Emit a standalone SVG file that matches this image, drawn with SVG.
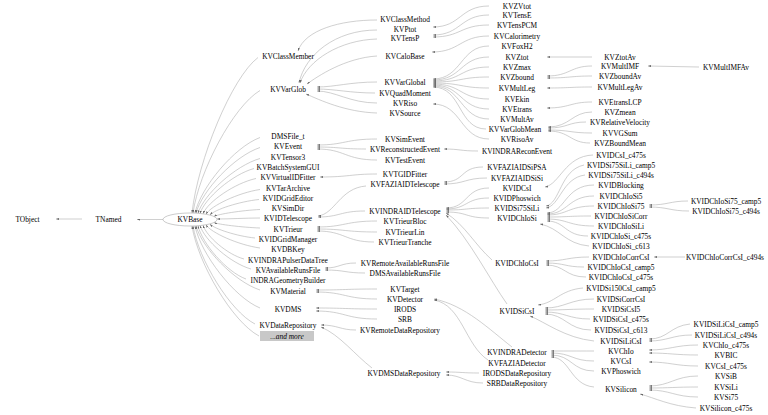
<svg xmlns="http://www.w3.org/2000/svg" width="768" height="415" viewBox="0 0 768 415">
<defs>
<style>
.t{font-family:"Liberation Serif","Times New Roman",serif;font-size:7.4px;text-anchor:middle;fill:#000}
.e{fill:none;stroke:#b0b0b0;stroke-width:0.6;marker-end:url(#ah)}
</style>
<marker id="ah" markerUnits="userSpaceOnUse" markerWidth="3" markerHeight="2" refX="3" refY="1" orient="auto">
<path d="M0,0 L3,1 L0,2 z" fill="#666"/>
</marker>
</defs>
<rect width="768" height="415" fill="#fff"/>

<g id="edges">
<path class="e" d="M82,219 L56,219"/>
<path class="e" d="M163,219.5 L137,219.5"/>
<!-- KVBase fan -->
<path class="e" d="M258,57.5 C231.6,77.7 197.9,160.1 192,213"/>
<path class="e" d="M260,90.5 C233.2,106.4 199,171.4 193,213"/>
<path class="e" d="M260,137.5 C234,147.3 200.9,187.3 195,213"/>
<path class="e" d="M260,147.5 C234.4,156 201.8,190.9 196,213.2"/>
<path class="e" d="M260,158.5 C235.2,165.6 203.6,194.7 198,213.3"/>
<path class="e" d="M254,168.5 C232.4,174.4 204.9,198.2 200,213.5"/>
<path class="e" d="M256,178.5 C234.8,183.1 207.8,201.8 203,213.8"/>
<path class="e" d="M260,189.5 C238.4,192.7 210.9,205.8 206,214.2"/>
<path class="e" d="M259,199.5 C239.4,201.5 214.4,209.7 210,215"/>
<path class="e" d="M260,209.5 C241.6,210.4 218.1,214.1 214,216.5"/>
<path class="e" d="M260,218 C245,218 230,219 217,219"/>
<path class="e" d="M260,228 C241.6,227.3 218.1,224.4 214,222.5"/>
<path class="e" d="M255,238 C237,236.2 214,228.8 210,224"/>
<path class="e" d="M260,248 C238.4,245 210.9,232.7 206,224.8"/>
<path class="e" d="M244,259 C227.6,254.6 206.7,236.7 203,225.2"/>
<path class="e" d="M251,269 C230.6,263.3 204.6,240.3 200,225.5"/>
<path class="e" d="M246,279 C226.8,272.1 202.3,243.8 198,225.7"/>
<path class="e" d="M260,290 C234.4,281.7 201.8,247.6 196,225.8"/>
<path class="e" d="M260,308 C234,297.3 200.9,253.9 195,226"/>
<path class="e" d="M255,324 C230.2,311.3 198.6,259.3 193,226"/>
<path class="e" d="M259,336 C232.2,321.7 198,263.4 192,226"/>
<!-- rank 3 to rank 2 -->
<path class="e" d="M377,20 C340,20 305,30 298,51"/>
<path class="e" d="M377,30 C335,30 305,55 299,83"/>
<path class="e" d="M377,39 C340,40 308,60 300,83"/>
<path class="e" d="M377,56 C345,58 318,76 307,84"/>
<path class="e" d="M377,82 C350,82 335,87 317,87"/>
<path class="e" d="M375,93 C350,93 335,89 317,89"/>
<path class="e" d="M377,103 C350,103 335,91 317,91"/>
<path class="e" d="M377,113 C345,112 320,100 306,94"/>
<path class="e" d="M377,139 C345,139 345,145 317,145"/>
<path class="e" d="M366,149 C340,149 340,147 317,147"/>
<path class="e" d="M377,160 C345,160 345,149 317,149"/>
<path class="e" d="M377,174 C350,174 350,177 320,177"/>
<path class="e" d="M366,186 C340,188 335,214 318,216"/>
<path class="e" d="M365,211 C340,211 340,217 318,217"/>
<path class="e" d="M377,221 C345,221 345,227 317,227"/>
<path class="e" d="M377,232 C345,232 345,229 317,229"/>
<path class="e" d="M374,242 C345,242 345,231 317,231"/>
<path class="e" d="M356,263 C340,263 340,268 325,268"/>
<path class="e" d="M365,273 C345,273 345,270 325,270"/>
<path class="e" d="M377,289 C345,289 345,290 316,290"/>
<path class="e" d="M377,299 C345,299 345,292 316,292"/>
<path class="e" d="M377,309 C345,309 345,308 316,308"/>
<path class="e" d="M377,319 C345,319 345,311 316,311"/>
<path class="e" d="M356,330 C340,330 338,325 321,325"/>
<path class="e" d="M372,368 C355,355 340,335 321,327"/>
<!-- rank 4 to rank 3 -->
<path class="e" d="M489,6 C460,6 461,27 433,27"/>
<path class="e" d="M489,15 C460,15 461,35 433,35"/>
<path class="e" d="M489,25 C460,25 461,37 433,37"/>
<path class="e" d="M489,36 C460,36 460,52 432,52"/>
<path class="e" d="M489,46 C460,46 462,79 433,79"/>
<path class="e" d="M489,57 C460,57 462,80 433,80"/>
<path class="e" d="M489,67 C460,67 462,81 433,81"/>
<path class="e" d="M489,77 C460,77 462,82 433,82"/>
<path class="e" d="M489,88 C460,88 462,83 433,83"/>
<path class="e" d="M489,99 C460,99 462,84 433,84"/>
<path class="e" d="M489,109 C460,109 462,85 433,85"/>
<path class="e" d="M489,119 C460,119 462,86 433,86"/>
<path class="e" d="M486,129 C458,129 462,87 433,87"/>
<path class="e" d="M489,139 C460,139 462,104 433,104"/>
<path class="e" d="M478,151 C460,151 460,149 444,149"/>
<path class="e" d="M483,167 C460,167 465,182 444,182"/>
<path class="e" d="M487,178 C465,178 465,184 444,184"/>
<path class="e" d="M489,188 C465,188 468,208 446,208"/>
<path class="e" d="M489,198 C465,198 468,209 446,209"/>
<path class="e" d="M489,208 C465,208 468,210 446,210"/>
<path class="e" d="M489,218 C465,218 468,212 446,212"/>
<path class="e" d="M492,260 C475,245 465,225 446,213"/>
<path class="e" d="M507,304 C490,280 470,240 446,215"/>
<path class="e" d="M512,347 C490,330 465,305 434,299"/>
<path class="e" d="M488,360 C465,345 462,305 434,300"/>
<path class="e" d="M479,373 C462,373 462,372 446,372"/>
<path class="e" d="M483,383 C465,383 462,375 446,375"/>
<!-- rank 5 to rank 4 -->
<path class="e" d="M592,57 L547,57"/>
<path class="e" d="M592,66 C570,66 570,76 547,76"/>
<path class="e" d="M592,76 C570,76 570,78 547,78"/>
<path class="e" d="M592,87 C570,87 570,88 547,88"/>
<path class="e" d="M592,102 C570,102 570,108 547,108"/>
<path class="e" d="M592,112 C572,112 570,127 548,127"/>
<path class="e" d="M586,122 C568,122 568,128 548,128"/>
<path class="e" d="M592,133 C570,133 570,130 548,130"/>
<path class="e" d="M590,143 C570,143 570,131 548,131"/>
<path class="e" d="M593,155 C565,156 560,184 545,187"/>
<path class="e" d="M584,165 C560,170 560,204 546,206"/>
<path class="e" d="M585,175 C562,178 560,206 546,208"/>
<path class="e" d="M594,185 C565,185 565,213 547,213"/>
<path class="e" d="M594,196 C568,196 568,214 547,214"/>
<path class="e" d="M594,206 C568,206 568,215 547,215"/>
<path class="e" d="M591,216 C568,216 568,217 547,217"/>
<path class="e" d="M594,226 C568,226 568,219 547,219"/>
<path class="e" d="M588,236 C565,236 565,221 547,221"/>
<path class="e" d="M589,246 C565,244 560,228 540,224"/>
<path class="e" d="M589,257 C568,257 565,261 546,261"/>
<path class="e" d="M584,267 C565,267 565,263 546,263"/>
<path class="e" d="M586,277 C565,277 565,265 546,265"/>
<path class="e" d="M583,288 C560,290 555,303 538,305"/>
<path class="e" d="M594,299 C570,299 565,308 545,308"/>
<path class="e" d="M594,309 C570,309 565,310 545,310"/>
<path class="e" d="M590,319 C568,319 565,312 545,312"/>
<path class="e" d="M591,330 C568,330 565,314 545,314"/>
<path class="e" d="M594,341 C565,338 545,322 530,316"/>
<path class="e" d="M594,351 C572,351 572,351 551,351"/>
<path class="e" d="M594,361 C572,361 572,353 551,353"/>
<path class="e" d="M594,371 C572,371 572,355 551,355"/>
<path class="e" d="M594,387 C570,385 570,357 551,357"/>
<!-- rank 6 to rank 5 -->
<path class="e" d="M699,67 L648,66"/>
<path class="e" d="M688,201 C670,201 668,205 649,205"/>
<path class="e" d="M689,211 C670,211 668,207 649,207"/>
<path class="e" d="M685,257 L654,257"/>
<path class="e" d="M690,324 C670,326 668,339 649,339"/>
<path class="e" d="M692,335 C672,335 668,341 649,341"/>
<path class="e" d="M698,345 C675,345 670,350 649,350"/>
<path class="e" d="M698,355 C675,355 670,353 649,353"/>
<path class="e" d="M698,366 C675,366 670,362 649,362"/>
<path class="e" d="M698,376 C675,376 670,386 649,386"/>
<path class="e" d="M698,387 C675,387 670,388 649,388"/>
<path class="e" d="M698,397 C675,397 670,390 649,390"/>
<path class="e" d="M696,408 C670,406 655,398 640,394"/>
</g>

<g id="n_TObject"><text class="t" x="27.5" y="221.6">TObject</text></g>
<g id="n_TNamed"><text class="t" x="108.5" y="221.6">TNamed</text></g>
<g id="n_KVBase"><ellipse cx="190" cy="219.5" rx="27" ry="6.5" fill="#fff" stroke="#a8a8a8" stroke-width="0.6"/><text class="t" x="190" y="222">KVBase</text></g>

<g id="n_KVClassMember"><text class="t" x="288" y="58.6">KVClassMember</text></g>
<g id="n_KVVarGlob"><text class="t" x="288" y="91.6">KVVarGlob</text></g>
<g id="n_DMSFile_t"><text class="t" x="288" y="138.6">DMSFile_t</text></g>
<g id="n_KVEvent"><text class="t" x="288" y="148.6">KVEvent</text></g>
<g id="n_KVTensor3"><text class="t" x="288" y="159.6">KVTensor3</text></g>
<g id="n_KVBatchSystemGUI"><text class="t" x="288" y="169.6">KVBatchSystemGUI</text></g>
<g id="n_KVVirtualIDFitter"><text class="t" x="288" y="179.6">KVVirtualIDFitter</text></g>
<g id="n_KVTarArchive"><text class="t" x="288" y="190.6">KVTarArchive</text></g>
<g id="n_KVIDGridEditor"><text class="t" x="288" y="200.6">KVIDGridEditor</text></g>
<g id="n_KVSimDir"><text class="t" x="288" y="210.6">KVSimDir</text></g>
<g id="n_KVIDTelescope"><text class="t" x="288" y="220.6">KVIDTelescope</text></g>
<g id="n_KVTrieur"><text class="t" x="288" y="231.6">KVTrieur</text></g>
<g id="n_KVIDGridManager"><text class="t" x="288" y="241.6">KVIDGridManager</text></g>
<g id="n_KVDBKey"><text class="t" x="288" y="251.6">KVDBKey</text></g>
<g id="n_KVINDRAPulserDataTree"><text class="t" x="288" y="262.6">KVINDRAPulserDataTree</text></g>
<g id="n_KVAvailableRunsFile"><text class="t" x="288" y="272.6">KVAvailableRunsFile</text></g>
<g id="n_INDRAGeometryBuilder"><text class="t" x="288" y="282.6">INDRAGeometryBuilder</text></g>
<g id="n_KVMaterial"><text class="t" x="288" y="293.6">KVMaterial</text></g>
<g id="n_KVDMS"><text class="t" x="288" y="311.6">KVDMS</text></g>
<g id="n_KVDataRepository"><text class="t" x="288" y="327.6">KVDataRepository</text></g>
<g id="n_more"><rect x="260" y="331" width="54" height="10" fill="#c8c8c8"/><text class="t" x="287" y="338.6" font-style="italic">...and more</text></g>

<g id="n_KVClassMethod"><text class="t" x="405" y="21.6">KVClassMethod</text></g>
<g id="n_KVPtot"><text class="t" x="405" y="31.6">KVPtot</text></g>
<g id="n_KVTensP"><text class="t" x="405" y="40.6">KVTensP</text></g>
<g id="n_KVCaloBase"><text class="t" x="405" y="58.6">KVCaloBase</text></g>
<g id="n_KVVarGlobal"><text class="t" x="405" y="84.6">KVVarGlobal</text></g>
<g id="n_KVQuadMoment"><text class="t" x="405" y="95.6">KVQuadMoment</text></g>
<g id="n_KVRiso"><text class="t" x="405" y="105.6">KVRiso</text></g>
<g id="n_KVSource"><text class="t" x="405" y="115.6">KVSource</text></g>
<g id="n_KVSimEvent"><text class="t" x="405" y="141.6">KVSimEvent</text></g>
<g id="n_KVReconstructedEvent"><text class="t" x="405" y="151.6">KVReconstructedEvent</text></g>
<g id="n_KVTestEvent"><text class="t" x="405" y="162.6">KVTestEvent</text></g>
<g id="n_KVTGIDFitter"><text class="t" x="405" y="176.6">KVTGIDFitter</text></g>
<g id="n_KVFAZIAIDTelescope"><text class="t" x="405" y="186.6">KVFAZIAIDTelescope</text></g>
<g id="n_KVINDRAIDTelescope"><text class="t" x="405" y="213.6">KVINDRAIDTelescope</text></g>
<g id="n_KVTrieurBloc"><text class="t" x="405" y="223.6">KVTrieurBloc</text></g>
<g id="n_KVTrieurLin"><text class="t" x="405" y="234.6">KVTrieurLin</text></g>
<g id="n_KVTrieurTranche"><text class="t" x="405" y="244.6">KVTrieurTranche</text></g>
<g id="n_KVRemoteAvailableRunsFile"><text class="t" x="405" y="265.6">KVRemoteAvailableRunsFile</text></g>
<g id="n_DMSAvailableRunsFile"><text class="t" x="405" y="275.6">DMSAvailableRunsFile</text></g>
<g id="n_KVTarget"><text class="t" x="405" y="291.6">KVTarget</text></g>
<g id="n_KVDetector"><text class="t" x="405" y="301.6">KVDetector</text></g>
<g id="n_IRODS"><text class="t" x="405" y="311.6">IRODS</text></g>
<g id="n_SRB"><text class="t" x="405" y="321.6">SRB</text></g>
<g id="n_KVRemoteDataRepository"><text class="t" x="400" y="332.6">KVRemoteDataRepository</text></g>
<g id="n_KVDMSDataRepository"><text class="t" x="404" y="375.6">KVDMSDataRepository</text></g>

<g id="n_KVZVtot"><text class="t" x="517" y="8.6">KVZVtot</text></g>
<g id="n_KVTensE"><text class="t" x="517" y="17.6">KVTensE</text></g>
<g id="n_KVTensPCM"><text class="t" x="517" y="27.6">KVTensPCM</text></g>
<g id="n_KVCalorimetry"><text class="t" x="517" y="38.6">KVCalorimetry</text></g>
<g id="n_KVFoxH2"><text class="t" x="517" y="48.6">KVFoxH2</text></g>
<g id="n_KVZtot"><text class="t" x="517" y="59.6">KVZtot</text></g>
<g id="n_KVZmax"><text class="t" x="517" y="69.6">KVZmax</text></g>
<g id="n_KVZbound"><text class="t" x="517" y="79.6">KVZbound</text></g>
<g id="n_KVMultLeg"><text class="t" x="517" y="90.6">KVMultLeg</text></g>
<g id="n_KVEkin"><text class="t" x="517" y="101.6">KVEkin</text></g>
<g id="n_KVEtrans"><text class="t" x="517" y="111.6">KVEtrans</text></g>
<g id="n_KVMultAv"><text class="t" x="517" y="121.6">KVMultAv</text></g>
<g id="n_KVVarGlobMean"><text class="t" x="515" y="131.6">KVVarGlobMean</text></g>
<g id="n_KVRisoAv"><text class="t" x="517" y="141.6">KVRisoAv</text></g>
<g id="n_KVINDRAReconEvent"><text class="t" x="517" y="153.6">KVINDRAReconEvent</text></g>
<g id="n_KVFAZIAIDSiPSA"><text class="t" x="517" y="169.6">KVFAZIAIDSiPSA</text></g>
<g id="n_KVFAZIAIDSiSi"><text class="t" x="517" y="180.6">KVFAZIAIDSiSi</text></g>
<g id="n_KVIDCsI"><text class="t" x="517" y="190.6">KVIDCsI</text></g>
<g id="n_KVIDPhoswich"><text class="t" x="517" y="200.6">KVIDPhoswich</text></g>
<g id="n_KVIDSi75SiLi"><text class="t" x="517" y="210.6">KVIDSi75SiLi</text></g>
<g id="n_KVIDChIoSi"><text class="t" x="517" y="220.6">KVIDChIoSi</text></g>
<g id="n_KVIDChIoCsI"><text class="t" x="517" y="265.6">KVIDChIoCsI</text></g>
<g id="n_KVIDSiCsI"><text class="t" x="517" y="313.6">KVIDSiCsI</text></g>
<g id="n_KVINDRADetector"><text class="t" x="517" y="354.6">KVINDRADetector</text></g>
<g id="n_KVFAZIADetector"><text class="t" x="517" y="365.6">KVFAZIADetector</text></g>
<g id="n_IRODSDataRepository"><text class="t" x="517" y="375.6">IRODSDataRepository</text></g>
<g id="n_SRBDataRepository"><text class="t" x="517" y="385.6">SRBDataRepository</text></g>

<g id="n_KVZtotAv"><text class="t" x="620" y="59.6">KVZtotAv</text></g>
<g id="n_KVMultIMF"><text class="t" x="620" y="68.6">KVMultIMF</text></g>
<g id="n_KVZboundAv"><text class="t" x="620" y="78.6">KVZboundAv</text></g>
<g id="n_KVMultLegAv"><text class="t" x="620" y="89.6">KVMultLegAv</text></g>
<g id="n_KVEtransLCP"><text class="t" x="620" y="104.6">KVEtransLCP</text></g>
<g id="n_KVZmean"><text class="t" x="620" y="114.6">KVZmean</text></g>
<g id="n_KVRelativeVelocity"><text class="t" x="620" y="124.6">KVRelativeVelocity</text></g>
<g id="n_KVVGSum"><text class="t" x="620" y="135.6">KVVGSum</text></g>
<g id="n_KVZBoundMean"><text class="t" x="620" y="145.6">KVZBoundMean</text></g>
<g id="n_KVIDCsI_c475s"><text class="t" x="621" y="157.6">KVIDCsI_c475s</text></g>
<g id="n_KVIDSi75SiLi_camp5"><text class="t" x="621" y="167.6">KVIDSi75SiLi_camp5</text></g>
<g id="n_KVIDSi75SiLi_c494s"><text class="t" x="621" y="177.6">KVIDSi75SiLi_c494s</text></g>
<g id="n_KVIDBlocking"><text class="t" x="621" y="187.6">KVIDBlocking</text></g>
<g id="n_KVIDChIoSi5"><text class="t" x="621" y="198.6">KVIDChIoSi5</text></g>
<g id="n_KVIDChIoSi75"><text class="t" x="621" y="208.6">KVIDChIoSi75</text></g>
<g id="n_KVIDChIoSiCorr"><text class="t" x="621" y="218.6">KVIDChIoSiCorr</text></g>
<g id="n_KVIDChIoSiLi"><text class="t" x="621" y="228.6">KVIDChIoSiLi</text></g>
<g id="n_KVIDChIoSi_c475s"><text class="t" x="621" y="238.6">KVIDChIoSi_c475s</text></g>
<g id="n_KVIDChIoSi_c613"><text class="t" x="621" y="248.6">KVIDChIoSi_c613</text></g>
<g id="n_KVIDChIoCorrCsI"><text class="t" x="621" y="259.6">KVIDChIoCorrCsI</text></g>
<g id="n_KVIDChIoCsI_camp5"><text class="t" x="621" y="269.6">KVIDChIoCsI_camp5</text></g>
<g id="n_KVIDChIoCsI_c475s"><text class="t" x="621" y="279.6">KVIDChIoCsI_c475s</text></g>
<g id="n_KVIDSi150CsI_camp5"><text class="t" x="621" y="290.6">KVIDSi150CsI_camp5</text></g>
<g id="n_KVIDSiCorrCsI"><text class="t" x="621" y="301.6">KVIDSiCorrCsI</text></g>
<g id="n_KVIDSiCsI5"><text class="t" x="621" y="311.6">KVIDSiCsI5</text></g>
<g id="n_KVIDSiCsI_c475s"><text class="t" x="621" y="321.6">KVIDSiCsI_c475s</text></g>
<g id="n_KVIDSiCsI_c613"><text class="t" x="621" y="332.6">KVIDSiCsI_c613</text></g>
<g id="n_KVIDSiLiCsI"><text class="t" x="621" y="343.6">KVIDSiLiCsI</text></g>
<g id="n_KVChIo"><text class="t" x="621" y="353.6">KVChIo</text></g>
<g id="n_KVCsI"><text class="t" x="621" y="363.6">KVCsI</text></g>
<g id="n_KVPhoswich"><text class="t" x="621" y="373.6">KVPhoswich</text></g>
<g id="n_KVSilicon"><text class="t" x="621" y="391.6">KVSilicon</text></g>

<g id="n_KVMultIMFAv"><text class="t" x="726" y="69.6">KVMultIMFAv</text></g>
<g id="n_KVIDChIoSi75_camp5"><text class="t" x="726" y="203.6">KVIDChIoSi75_camp5</text></g>
<g id="n_KVIDChIoSi75_c494s"><text class="t" x="726" y="213.6">KVIDChIoSi75_c494s</text></g>
<g id="n_KVIDChIoCorrCsI_c494s"><text class="t" x="725" y="259.6">KVIDChIoCorrCsI_c494s</text></g>
<g id="n_KVIDSiLiCsI_camp5"><text class="t" x="726" y="326.6">KVIDSiLiCsI_camp5</text></g>
<g id="n_KVIDSiLiCsI_c494s"><text class="t" x="726" y="337.6">KVIDSiLiCsI_c494s</text></g>
<g id="n_KVChIo_c475s"><text class="t" x="726" y="347.6">KVChIo_c475s</text></g>
<g id="n_KVBIC"><text class="t" x="726" y="357.6">KVBIC</text></g>
<g id="n_KVCsI_c475s"><text class="t" x="726" y="368.6">KVCsI_c475s</text></g>
<g id="n_KVSiB"><text class="t" x="726" y="378.6">KVSiB</text></g>
<g id="n_KVSiLi"><text class="t" x="726" y="389.6">KVSiLi</text></g>
<g id="n_KVSi75"><text class="t" x="726" y="399.6">KVSi75</text></g>
<g id="n_KVSilicon_c475s"><text class="t" x="726" y="410.6">KVSilicon_c475s</text></g>
</svg>
